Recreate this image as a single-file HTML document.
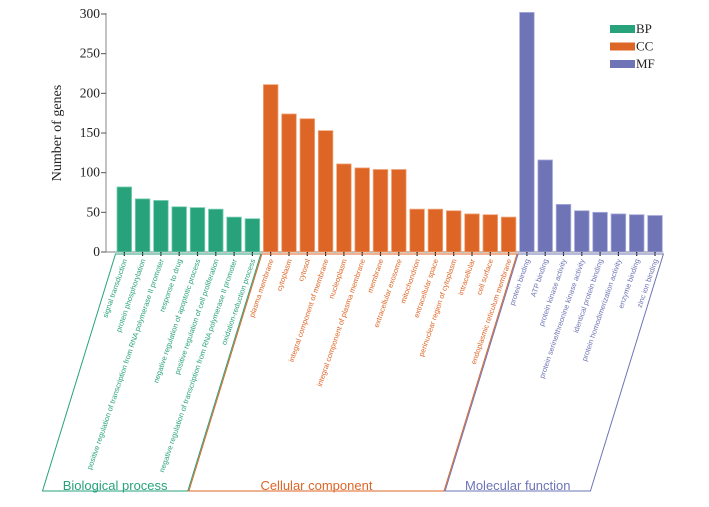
<!DOCTYPE html>
<html><head><meta charset="utf-8"><style>
html,body{margin:0;padding:0;background:#fff;}
svg{display:block;}
</style></head><body>
<svg id="chart" width="709" height="507" xmlns="http://www.w3.org/2000/svg"></svg>
<script>
const bpLabels = ["signal transduction","protein phosphorylation","positive regulation of transcription from RNA polymerase II promoter","response to drug","negative regulation of apoptotic process","positive regulation of cell proliferation","negative regulation of transcription from RNA polymerase II promoter","oxidation-reduction process"];
const bpValues = [82,67,65,57,56,54,44,42];
const ccLabels = ["plasma membrane","cytoplasm","cytosol","integral component of membrane","nucleoplasm","integral component of plasma membrane","membrane","extracellular exosome","mitochondrion","extracellular space","perinuclear region of cytoplasm","intracellular","cell surface","endoplasmic reticulum membrane"];
const ccValues = [211,174,168,153,111,106,104,104,54,54,52,48,47,44];
const mfLabels = ["protein binding","ATP binding","protein kinase activity","protein serine/threonine kinase activity","identical protein binding","protein homodimerization activity","enzyme binding","zinc ion binding"];
const mfValues = [302,116,60,52,50,48,47,46];
const yTicks = [0,50,100,150,200,250,300];

const NS="http://www.w3.org/2000/svg";
const svg=document.getElementById('chart');
function mk(tag,attrs,parent){const e=document.createElementNS(NS,tag);for(const k in attrs)e.setAttribute(k,attrs[k]);(parent||svg).appendChild(e);return e;}
const y0=252, yTop=14, yMax=300;
const yScale=v=>y0-(v/yMax)*(y0-yTop);
const pitch=18.3, firstX=115.2, barW=14.6;
const xScale=i=>firstX+i*pitch;

const groups=[
 {key:'bp',labels:bpLabels,values:bpValues,color:'#27a27b',stroke:'#7fd0b5',name:'Biological process'},
 {key:'cc',labels:ccLabels,values:ccValues,color:'#dd6525',stroke:'#f2a67c',name:'Cellular component'},
 {key:'mf',labels:mfLabels,values:mfValues,color:'#6e74b5',stroke:'#a9addb',name:'Molecular function'}
];

const axis=mk('g',{});


mk('line',{x1:106,y1:yTop-1,x2:106,y2:y0,stroke:'#999','stroke-width':1.2},axis);
yTicks.forEach(t=>{
  const y=yScale(t);
  mk('line',{x1:101,y1:y,x2:106,y2:y,stroke:'#555','stroke-width':1},axis);
  const tx=mk('text',{x:100,y:y+4,'text-anchor':'end','font-family':'Liberation Serif, serif','font-size':13.5,fill:'#222'},axis);
  tx.textContent=t;
  
  
});
const yt=mk('text',{x:0,y:0,transform:'translate(61,133) rotate(-90)','text-anchor':'middle','font-family':'Liberation Serif, serif','font-size':14,fill:'#222'});
yt.textContent='Number of genes';



let idx=0;
const total=bpValues.length+ccValues.length+mfValues.length;
const xAxisEnd=xScale(total)-1.5;
const xa=mk('line',{x1:106,y1:y0,x2:xAxisEnd+0.5,y2:y0,stroke:'#999','stroke-width':1.2});



const slant=73/237;
groups.forEach(g=>{
  const startIdx=idx;
  const gEl=mk('g',{});
  
  
  g.values.forEach((v,i)=>{
    const x=xScale(idx);
    const r=mk('rect',{x:x+1.8,y:yScale(v),width:barW,height:y0-yScale(v),fill:g.color,stroke:g.stroke,'stroke-width':0.8},gEl);
    
    
    const cx=x+1.8+barW/2;
    mk('line',{x1:cx,y1:y0,x2:cx,y2:y0+4,stroke:'#222','stroke-width':1.2},gEl);
    const t=mk('text',{x:0,y:0,transform:`translate(${cx+3},${y0+8}) rotate(-71)`,'text-anchor':'end','font-family':'Liberation Sans, sans-serif','font-size':7.4,fill:g.color},gEl);
    t.textContent=g.labels[i];
    
    
    idx++;
  });
  const tl=xScale(startIdx)+0.3, tr=xScale(idx)-0.8;
  const top=254, bot=491, dx=(bot-top)*slant;
  const p=mk('polygon',{points:`${tl},${top} ${tr},${top} ${tr-dx},${bot} ${tl-dx},${bot}`,fill:'none',stroke:g.color,'stroke-width':1});
  
  
  const lbl=mk('text',{x:(tl-dx+tr-dx)/2,y:490,'text-anchor':'middle','font-family':'Liberation Sans, sans-serif','font-size':13,fill:g.color});
  lbl.textContent=g.name;
  
  
});

const leg=mk('g',{});


['BP','CC','MF'].forEach((n,i)=>{
  const y=25+i*17.5;
  const r=mk('rect',{x:610,y:y,width:25,height:8,fill:groups[i].color},leg);
  
  
  const t=mk('text',{x:636,y:y+8,'font-family':'Liberation Serif, serif','font-size':13,fill:'#222'},leg);
  t.textContent=n;
  
  
});
</script>
</body></html>
